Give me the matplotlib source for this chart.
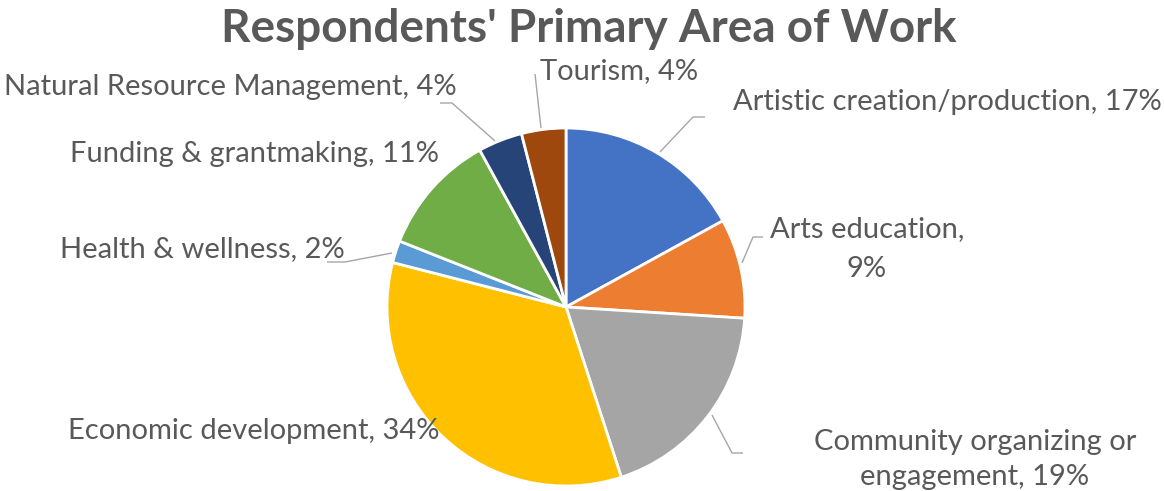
import matplotlib
matplotlib.use("Agg")
import matplotlib.pyplot as plt

# ---- data ----
categories = ["Artistic creation/production", "Arts education",
              "Community organizing or\nengagement", "Economic development",
              "Health & wellness", "Funding & grantmaking",
              "Natural Resource Management", "Tourism"]
values = [17, 9, 19, 34, 2, 11, 4, 4]
colors = ["#4472C4", "#ED7D31", "#A5A5A5", "#FFC000",
          "#5B9BD5", "#70AD47", "#264478", "#9E480E"]
title = "Respondents' Primary Area of Work"

# ---- layout (pixel coords, y from top) ----
W, H = 1164, 491
FONT = "Lato"
TXT = "#595959"
LINE = "#A6A6A6"

# label format per slice (where the value line breaks)
label_fmt = ["{c}, {v}%", "{c},\n{v}%", "{c}, {v}%", "{c}, {v}%",
             "{c}, {v}%", "{c}, {v}%", "{c}, {v}%", "{c}, {v}%"]
# label placement: (x, first baseline, ha, line spacing)
label_pos = [
    (733, 110, "left", 0),
    (867, 237, "center", 40),
    (975, 450, "center", 35),
    (68, 439, "left", 0),
    (60, 257, "left", 0),
    (70, 162, "left", 0),
    (4, 95, "left", 0),
    (540, 79, "left", 0),
]
leaders = [
    [(660, 152), (693, 117), (705, 117)],
    [(742, 263), (753, 237), (763, 237)],
    [(712, 415), (732, 453), (743, 453)],
    None,
    [(327, 262), (345, 262), (392, 253)],
    None,
    [(440, 103), (452, 103), (495, 141)],
    [(535, 74), (541, 128)],
]

def Y(py):
    return H - py

fig = plt.figure(figsize=(W / 100, H / 100), dpi=100)
ax = fig.add_axes([0, 0, 1, 1])

ax.pie(values, colors=colors, startangle=90, counterclock=False,
       center=(566, Y(307)), radius=179, frame=True,
       wedgeprops=dict(edgecolor="white", linewidth=2))
ax.set_xlim(0, W)
ax.set_ylim(0, H)
ax.set_aspect("equal")
ax.axis("off")

renderer = fig.canvas.get_renderer()

def fit_size(text, target_px, weight="normal"):
    t = fig.text(0, 0, text, fontsize=20, family=FONT, fontweight=weight)
    w = t.get_window_extent(renderer).width
    t.remove()
    return 20 * target_px / w

label_fs = fit_size("Artistic creation/production, 17%", 430)
title_fs = fit_size(title, 737, "bold")

for pts in leaders:
    if pts is None:
        continue
    ax.plot([p[0] for p in pts], [Y(p[1]) for p in pts], color=LINE, lw=1.0,
            solid_capstyle="butt", zorder=3)

for cat, v, fmt, (x, yb, ha, sp) in zip(categories, values, label_fmt, label_pos):
    lines = fmt.format(c=cat, v=v).split("\n")
    for i, ln in enumerate(lines):
        ax.text(x, Y(yb + i * sp), ln, ha=ha, va="baseline", fontsize=label_fs,
                family=FONT, color=TXT, zorder=4)

ax.text(589, Y(42), title, ha="center", va="baseline", fontsize=title_fs,
        family=FONT, fontweight="bold", color=TXT)

fig.savefig("out.png", dpi=100)
